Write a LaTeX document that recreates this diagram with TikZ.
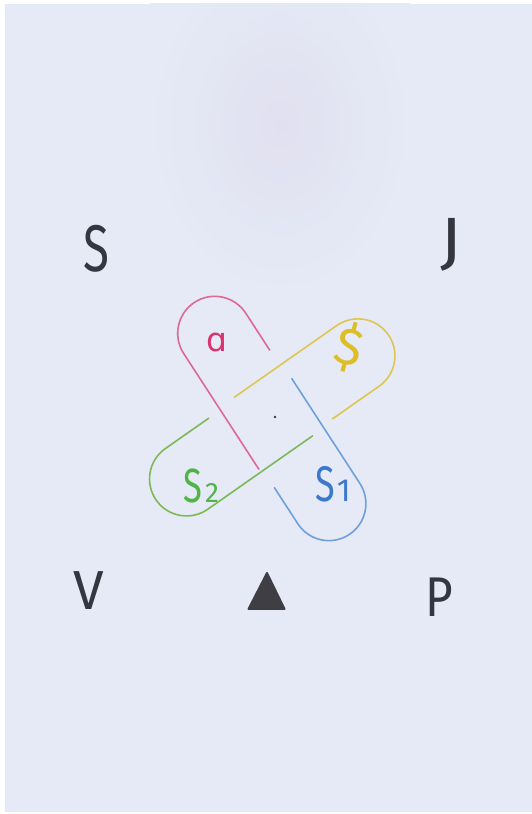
\documentclass[tikz,border=0pt]{standalone}
\usepackage{fontspec}
\newfontfamily\hand{Fira Sans Light}
\newfontfamily\handreg{Fira Sans}
\newfontfamily\dvfont{DejaVu Sans}
\definecolor{paper}{RGB}{229,234,246}
\definecolor{blob}{RGB}{225,224,240}
\definecolor{ink}{RGB}{52,54,64}
\definecolor{trifill}{RGB}{62,62,68}
\definecolor{pinkc}{RGB}{222,105,150}
\definecolor{pinkt}{RGB}{220,50,110}
\definecolor{yellowc}{RGB}{222,198,80}
\definecolor{yellowt}{RGB}{222,190,40}
\definecolor{greenc}{RGB}{125,185,85}
\definecolor{greent}{RGB}{80,180,70}
\definecolor{bluec}{RGB}{110,160,220}
\definecolor{bluet}{RGB}{60,120,205}
% #1 angle, #2 lateral offset, #3 cap centre, #4 short end, #5 long end, #6 colour
\newcommand\myloop[6]{%
  \begin{scope}[shift={(275,397)}, rotate=#1, yshift=#2]
    \draw[loopline, #6] (#4,-37) -- (#3,-37) arc[start angle=-90, end angle=90, radius=37] -- (#5,37);
  \end{scope}}
\begin{document}
\begin{tikzpicture}[x=1pt, y=1pt,
  loopline/.style={line width=1.6pt, line cap=round, line join=round},
  letter/.style={inner sep=0pt, text=ink, font=\handreg},
  lbl/.style={inner sep=0pt, font=\handreg}]
\useasboundingbox (0,0) rectangle (532,814);
\fill[white] (0,0) rectangle (532,814);
\fill[paper] (5,2) rectangle (532,810);
\begin{scope}
  \clip (5,2) rectangle (532,810);
  \shade[inner color=blob, outer color=paper] (150,520) rectangle (410,860);
\end{scope}

% loops
\myloop{123}{5}{103}{59}{-35}{pinkc}
\myloop{35}{2.5}{103}{46}{-22}{yellowc}
\myloop{215}{0}{108}{55}{-20}{greenc}
\myloop{303}{-2}{102}{59}{-23}{bluec}

% centre dot
\fill[ink] (275,397) circle (1.3);

% loop labels
\node[inner sep=0pt, text=pinkt, font=\dvfont] (la) at (216.7,471.3) {\fontsize{33}{33}\selectfont ɑ};
\node[lbl, text=yellowt, rotate=-15] (ld) at (349,467) {\fontsize{52}{52}\selectfont \$};
\node[lbl, text=greent, anchor=base west] (ls2) at (183,311)
  {\scalebox{0.72}[1]{\fontsize{48}{48}\selectfont S}\hspace{3pt}{\fontsize{28}{28}\selectfont 2}};
\node[lbl, text=bluet, anchor=base west] (ls1) at (315,312)
  {\scalebox{0.72}[1]{\fontsize{50}{50}\selectfont S}\hspace{2pt}{\fontsize{32}{32}\selectfont 1}};

% corner letters
\node[letter] (S) at (96.7,565) {\scalebox{0.72}[1]{\fontsize{66}{66}\selectfont S}};
\node[letter] (J) at (450.8,569) {\scalebox{1.1}[1]{\fontsize{64}{64}\selectfont J}};
\node[letter] (V) at (89,223) {\fontsize{55}{55}\selectfont V};
\node[letter] (P) at (439,216.5) {\scalebox{0.85}[1]{\fontsize{56}{56}\selectfont P}};

% triangle
\fill[trifill, draw=trifill, line width=2pt, line join=round] (267,241) -- (248.5,205) -- (284.5,205) -- cycle;
\end{tikzpicture}
\end{document}
